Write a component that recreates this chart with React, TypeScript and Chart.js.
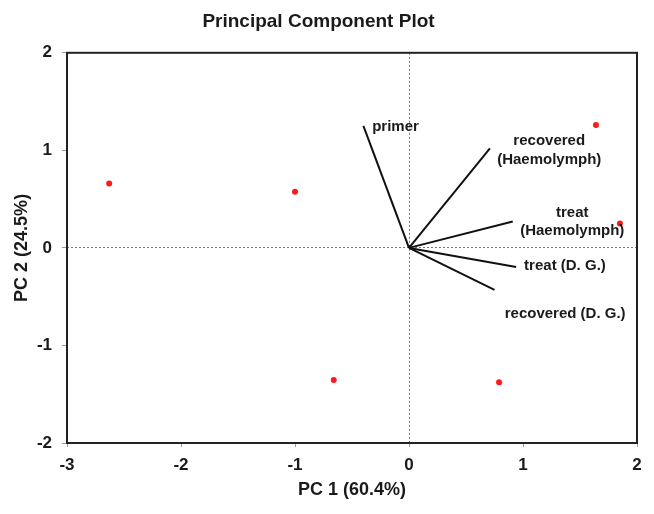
import React, { useEffect, useRef } from "react";
import { Chart, registerables } from "chart.js";

Chart.register(...registerables);

// PCA scores (red points)
const scoreX = [-2.63, -1.0, -0.66, 0.79, 1.64, 1.85];
const scoreY = [0.66, 0.575, -1.355, -1.376, 1.26, 0.25];

// Loading vectors (from origin)
const loadingNames = ["primer", "recovered (Haemolymph)", "treat (Haemolymph)", "treat (D. G.)", "recovered (D. G.)"];
const loadingX = [-0.4, 0.71, 0.91, 0.94, 0.75];
const loadingY = [1.25, 1.02, 0.27, -0.195, -0.43];

// Vector labels (text lines + block centre in data units)
const labelLines = [["primer"], ["recovered", "(Haemolymph)"], ["treat", "(Haemolymph)"], ["treat (D. G.)"], ["recovered (D. G.)"]];
const labelX = [-0.118, 1.23, 1.432, 1.368, 1.37];
const labelY = [1.24, 0.998, 0.267, -0.188, -0.674];

const xMin = -3, xMax = 2, yMin = -2, yMax = 2;
const titleText = "Principal Component Plot";
const xTitle = "PC 1 (60.4%)";
const yTitle = "PC 2 (24.5%)";

const FAMILY = '"Liberation Sans", Arial, Helvetica, sans-serif';
const TEXT = "#1a1a1a";

const overlay = {
  id: "overlay",
  afterDatasetsDraw(chart: any) {
    const { ctx, chartArea: a, scales } = chart;
    const xs = scales.x, ys = scales.y;
    ctx.save();
    ctx.strokeStyle = "#222";
    ctx.lineWidth = 2;
    ctx.strokeRect(a.left, a.top, a.right - a.left, a.bottom - a.top);
    ctx.font = `bold 15px ${FAMILY}`;
    ctx.fillStyle = TEXT;
    ctx.textAlign = "center";
    ctx.textBaseline = "middle";
    const lh = 18.5;
    labelLines.forEach((lines, i) => {
      const cx = xs.getPixelForValue(labelX[i]);
      const cy = ys.getPixelForValue(labelY[i]);
      lines.forEach((t, j) => {
        ctx.fillText(t, cx, cy + (j - (lines.length - 1) / 2) * lh);
      });
    });
    ctx.restore();
  },
};

export default function App() {
  const ref = useRef<HTMLCanvasElement | null>(null);
  useEffect(() => {
    if (!ref.current) return;
    const zeroGrid = (c: any) => (c.tick && c.tick.value === 0 ? "#777" : "rgba(0,0,0,0)");
    const datasets: any[] = [
      {
        label: "scores",
        data: scoreX.map((x, i) => ({ x, y: scoreY[i] })),
        backgroundColor: "#ff1a1a",
        borderColor: "#ff1a1a",
        pointRadius: 3,
        borderWidth: 0,
        showLine: false,
      },
      ...loadingNames.map((name, i) => ({
        label: name,
        data: [
          { x: 0, y: 0 },
          { x: loadingX[i], y: loadingY[i] },
        ],
        borderColor: "#111",
        backgroundColor: "#111",
        borderWidth: 2,
        pointRadius: 0,
        showLine: true,
      })),
    ];
    const chart = new Chart(ref.current, {
      type: "scatter",
      data: { datasets },
      options: {
        animation: false,
        responsive: true,
        maintainAspectRatio: false,
        layout: { padding: { left: 0, right: 17, top: 0, bottom: 0 } },
        plugins: {
          legend: { display: false },
          tooltip: { enabled: false },
          title: {
            display: true,
            text: titleText,
            color: TEXT,
            font: { family: FAMILY, size: 19, weight: "bold" },
            padding: { top: 10, bottom: 20 },
          },
        },
        scales: {
          x: {
            type: "linear",
            min: xMin,
            max: xMax,
            ticks: { stepSize: 1, color: TEXT, padding: 8, font: { family: FAMILY, size: 17, weight: "bold" } },
            grid: { color: zeroGrid, tickColor: "#999", tickLength: 4, lineWidth: 1 },
            border: { display: false, dash: [2, 2] },
            title: {
              display: true,
              text: xTitle,
              color: TEXT,
              font: { family: FAMILY, size: 18, weight: "bold" },
              padding: { top: 0, bottom: 13 },
            },
            afterFit: (s: any) => {
              s.height = 71;
            },
          },
          y: {
            type: "linear",
            min: yMin,
            max: yMax,
            ticks: { stepSize: 1, color: TEXT, padding: 10, font: { family: FAMILY, size: 17, weight: "bold" } },
            grid: { color: zeroGrid, tickColor: "#999", tickLength: 5, lineWidth: 1 },
            border: { display: false, dash: [2, 2] },
            title: {
              display: true,
              text: yTitle,
              color: TEXT,
              font: { family: FAMILY, size: 18, weight: "bold" },
              padding: { top: 11, bottom: 0 },
            },
            afterFit: (s: any) => {
              s.width = 67;
            },
          },
        },
      } as any,
      plugins: [overlay],
    });
    return () => chart.destroy();
  }, []);
  return (
    <div style={{ position: "fixed", left: 0, top: 0, width: 654, height: 514, background: "#fff" }}>
      <canvas ref={ref} />
    </div>
  );
}
